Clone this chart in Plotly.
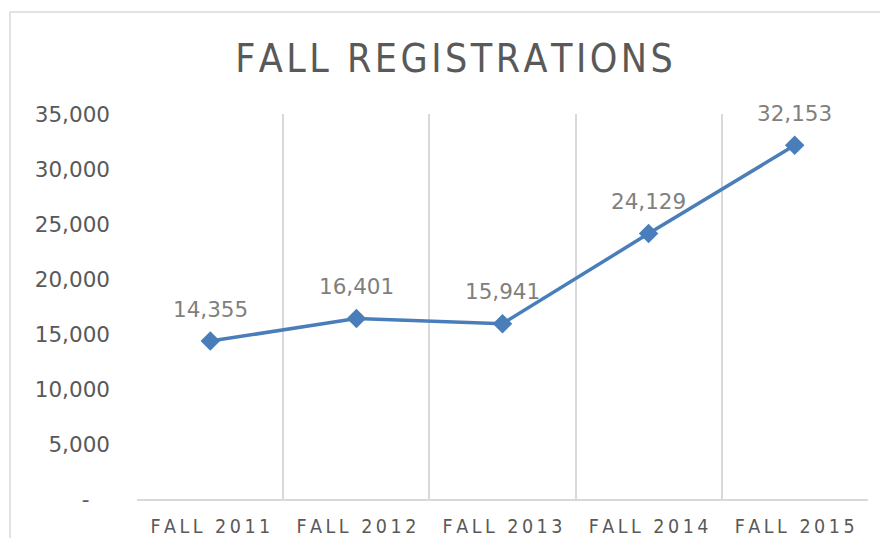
import plotly.graph_objects as go

categories = ["FALL 2011", "FALL 2012", "FALL 2013", "FALL 2014", "FALL 2015"]
registrations = [14355, 16401, 15941, 24129, 32153]
y_tick_values = [0, 5000, 10000, 15000, 20000, 25000, 30000, 35000]
y_tick_labels = ["-\u00a0\u00a0\u00a0", "5,000", "10,000", "15,000", "20,000", "25,000", "30,000", "35,000"]
title_text = "FALL REGISTRATIONS"

x_pos = list(range(len(categories)))

def spaced(s, sep):
    return sep.join(list(s))

W, H = 872, 530
L, R, T, B = 129, 12, 106, 39
PW, PH = W - L - R, H - T - B

fig = go.Figure()
fig.add_trace(go.Scatter(
    x=x_pos, y=registrations, mode="lines+markers",
    line=dict(color="#4a7ebb", width=3.5),
    marker=dict(symbol="diamond", size=15, color="#4a7ebb"),
    hoverinfo="skip", showlegend=False,
))

for xv, yv in zip(x_pos, registrations):
    fig.add_annotation(x=xv, y=yv, text=f"{yv:,}", showarrow=False,
                       yshift=32, font=dict(family="DejaVu Sans", size=21.5, color="#7f7f7f"))

fig.update_layout(
    width=W, height=H,
    margin=dict(l=L, r=R, t=T, b=B, autoexpand=False),
    paper_bgcolor="white", plot_bgcolor="white",
    title=dict(text=spaced(title_text, "\u200a"), x=446 / W, xref="container", xanchor="center",
               y=1 - 50 / H, yanchor="middle",
               font=dict(family="DejaVu Sans Condensed, Liberation Sans", size=39, color="#595959")),
    xaxis=dict(range=[-0.502, 4.502], tickvals=x_pos, ticktext=[spaced(c, "\u2009") for c in categories],
               showgrid=False, zeroline=False, showline=True, linecolor="#d9d9d9", linewidth=1.5,
               ticks="", ticklabelstandoff=9,
               tickfont=dict(family="DejaVu Sans Condensed, Liberation Sans", size=19.5, color="#595959"),
               minor=dict(tick0=-0.5, dtick=1, showgrid=True, gridcolor="#d9d9d9", gridwidth=1.5, ticks=""),
               fixedrange=True),
    yaxis=dict(range=[0, 35000], tickvals=y_tick_values, ticktext=y_tick_labels,
               showgrid=False, zeroline=False, showline=False, ticks="",
               ticklabelstandoff=26,
               tickfont=dict(family="DejaVu Sans", size=21.5, color="#595959"),
               fixedrange=True),
)

fig.add_shape(type="rect", xref="paper", yref="paper",
              x0=(2 - L) / PW, x1=1.3, y0=-0.3, y1=(H - B - 4) / PH,
              line=dict(color="#d9d9d9", width=1.5), layer="below")

fig.write_html("out.html")
